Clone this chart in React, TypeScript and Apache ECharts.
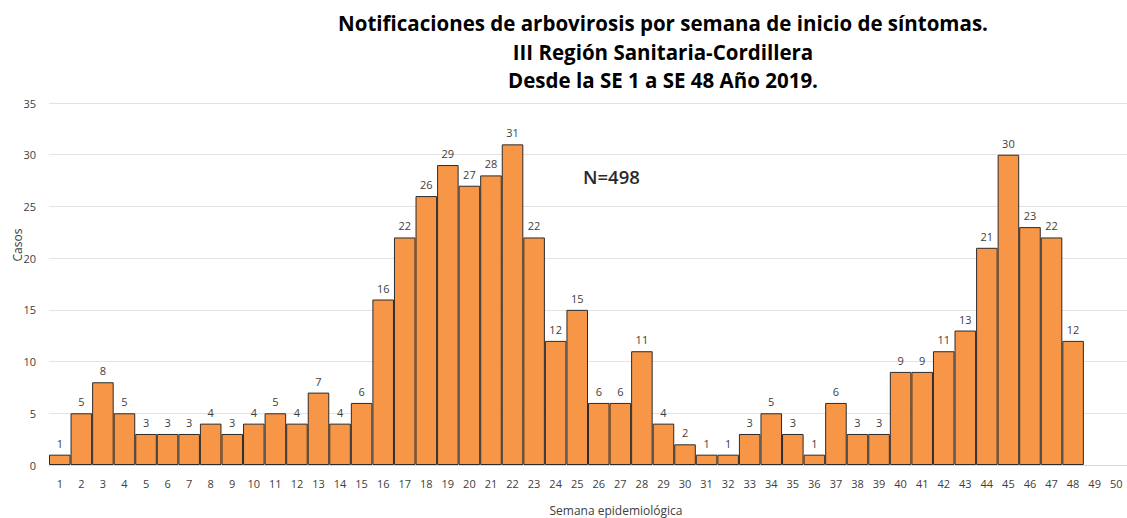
import React, { useEffect, useRef } from "react";
import * as echarts from "echarts";

const weeks = Array.from({ length: 50 }, (_, i) => String(i + 1));
const cases: (number | null)[] = [
  1, 5, 8, 5, 3, 3, 3, 4, 3, 4, 5, 4, 7, 4, 6, 16, 22, 26, 29, 27, 28, 31, 22, 12, 15,
  6, 6, 11, 4, 2, 1, 1, 3, 5, 3, 1, 6, 3, 3, 9, 9, 11, 13, 21, 30, 23, 22, 12, null, null,
];
const titleLines = [
  "Notificaciones de arbovirosis por semana de inicio de síntomas.",
  "III Región Sanitaria-Cordillera",
  "Desde la SE 1 a SE 48 Año 2019.",
];
const annotation = "N=498";
const yName = "Casos";
const xName = "Semana epidemiológica";

export default function App() {
  const ref = useRef<HTMLDivElement>(null);
  useEffect(() => {
    const chart = echarts.init(ref.current!, null, { renderer: "svg" });
    const font = "'Open Sans', 'Segoe UI', sans-serif";
    chart.setOption({
      animation: false,
      textStyle: { fontFamily: font },
      title: {
        text: titleLines.join("\n"),
        left: 658,
        top: 4,
        textAlign: "center",
        textStyle: {
          fontFamily: font,
          fontSize: 20.5,
          fontWeight: "bold",
          color: "#000",
          lineHeight: 28.5,
        },
      },
      grid: { left: 49, right: -1, top: 103, bottom: 53, containLabel: false },
      xAxis: {
        type: "category",
        data: weeks,
        axisLine: { lineStyle: { color: "#d9d9d9" } },
        axisTick: { show: false },
        axisLabel: { color: "#404040", fontSize: 11, margin: 13, interval: 0 },
      },
      yAxis: {
        type: "value",
        min: 0,
        max: 35,
        interval: 5,
        splitLine: { lineStyle: { color: "#e3e3e3" } },
        axisLine: { show: false },
        axisTick: { show: false },
        axisLabel: { color: "#404040", fontSize: 11, margin: 13 },
      },
      graphic: [
        {
          type: "text",
          left: 583,
          top: 167,
          style: { text: annotation, font: `600 18.5px ${font}`, fill: "#2a2a2a" },
        },
        {
          type: "text",
          x: 17,
          y: 245,
          rotation: Math.PI / 2,
          style: {
            text: yName,
            font: `12px ${font}`,
            fill: "#404040",
            textAlign: "center",
            textVerticalAlign: "middle",
          },
        },
        {
          type: "text",
          x: 616,
          y: 510,
          style: {
            text: xName,
            font: `12px ${font}`,
            fill: "#404040",
            textAlign: "center",
            textVerticalAlign: "middle",
          },
        },
      ],
      series: [
        {
          type: "bar",
          data: cases,
          barWidth: "100%",
          barGap: "0%",
          barCategoryGap: "0%",
          itemStyle: { color: "#F79646", borderColor: "#2b2b2b", borderWidth: 1 },
          label: {
            show: true,
            position: "top",
            distance: 6,
            color: "#404040",
            fontSize: 11,
          },
        },
      ],
    });
    return () => chart.dispose();
  }, []);
  return (
    <div
      ref={ref}
      style={{ position: "fixed", left: 0, top: 0, width: 1127, height: 518, background: "#fff" }}
    />
  );
}
